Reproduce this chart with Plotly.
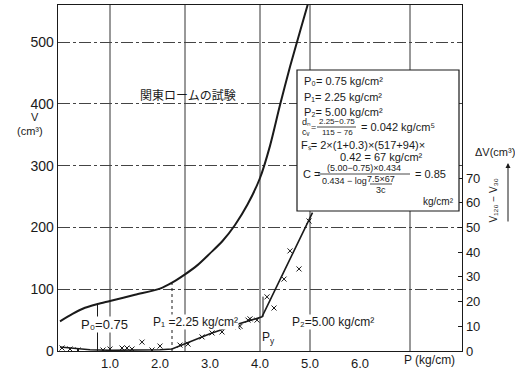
import plotly.graph_objects as go

# ---------------- data ----------------
P_CURVE = [0.0, 0.25, 0.5, 0.75, 1.0, 1.5, 2.0, 2.25, 2.5, 2.75, 3.0, 3.25, 3.5, 3.75, 4.0, 4.2, 4.4, 4.6, 4.8, 4.97]
V_CURVE = [48, 60, 70, 76, 81, 91, 101, 111, 124, 139, 158, 178, 204, 237, 280, 332, 398, 460, 517, 565]

DV_LINE_P = [0.0, 0.3, 0.6, 1.0, 1.5, 2.0, 2.24, 2.5, 3.0, 3.5, 4.04, 4.5, 5.0, 5.05]
DV_LINE = [1.6, 1.0, 0.5, 0.3, 0.3, 0.5, 0.8, 3.0, 7.0, 10.5, 13.8, 33.0, 54.0, 56.0]

MK_P = [0.04, 0.2, 0.36, 0.86, 1.0, 1.24, 1.34, 1.44, 1.64, 1.84, 2.0, 2.4, 2.56, 2.84, 3.04,
        3.24, 3.56, 3.6, 3.76, 3.8, 3.94, 4.14, 4.28, 4.48, 4.6, 4.78, 4.98]
MK_DV = [1.2, 0.8, 0.4, 0.4, 0.8, 1.2, 1.2, 0.8, 3.6, 0.4, 2.0, 2.4, 2.8, 5.7, 7.3,
         7.7, 9.7, 10.0, 12.5, 13.0, 12.5, 21.9, 17.4, 29.1, 40.5, 33.2, 52.6]

P0, V_P0 = 0.75, 76
P1, V_P1 = 2.24, 110
PY, DV_PY_LO, DV_PY_HI = 4.06, 13.8, 22.0

X_TICKS = [1.0, 2.0, 3.0, 4.0, 5.0, 6.0]
X_TICKTEXT = ["1.0", "2.0", "3.0", "4.0", "5.0", "6.0"]
Y_TICKS = [0, 100, 200, 300, 400, 500]
Y2_TICKS = [0, 10, 20, 30, 40, 50, 60, 70]
GRID_P = [1.0, 2.5, 4.0, 5.0, 7.0]

# ---------------- layout helpers ----------------
W, H = 515, 370
L, R, T, B = 58, 53, 5, 19
PW, PH = W - L - R, H - T - B
FONT = "Liberation Sans"
INK = "#1a1a1a"


def px(x):
    return (x - L) / PW


def py(y):
    return (H - B - y) / PH


fig = go.Figure()

fig.add_trace(go.Scatter(x=P_CURVE, y=V_CURVE, mode="lines",
                         line=dict(color=INK, width=2, shape="spline", smoothing=0.8),
                         hoverinfo="skip", showlegend=False))
fig.add_trace(go.Scatter(x=[P0, P0], y=[0, V_P0], mode="lines",
                         line=dict(color=INK, width=1), showlegend=False))
fig.add_trace(go.Scatter(x=[P1, P1], y=[0, V_P1], mode="lines",
                         line=dict(color=INK, width=1, dash="dot"), showlegend=False))
fig.add_trace(go.Scatter(x=DV_LINE_P, y=DV_LINE, mode="lines", yaxis="y2",
                         line=dict(color=INK, width=1.6), showlegend=False))
fig.add_trace(go.Scatter(x=[PY, PY], y=[DV_PY_LO, DV_PY_HI], mode="lines", yaxis="y2",
                         line=dict(color=INK, width=1), showlegend=False))
fig.add_trace(go.Scatter(x=MK_P, y=MK_DV, mode="markers", yaxis="y2",
                         marker=dict(symbol="x-thin", size=5, line=dict(color=INK, width=1)),
                         showlegend=False))

shapes = []
for g in GRID_P:
    shapes.append(dict(type="line", xref="x", yref="paper", x0=g, x1=g, y0=0, y1=1,
                       line=dict(color="#333", width=1), layer="below"))
# info box
shapes.append(dict(type="rect", xref="paper", yref="paper",
                   x0=px(297), x1=px(459), y0=py(211), y1=py(70),
                   fillcolor="white", line=dict(color=INK, width=1.2), layer="above"))


def hbar(x0, x1, y):
    shapes.append(dict(type="line", xref="paper", yref="paper", x0=px(x0), x1=px(x1),
                       y0=py(y), y1=py(y), line=dict(color=INK, width=0.8), layer="above"))


hbar(317, 356, 127)
hbar(318, 410, 174)
hbar(370, 392, 184)

ann = []


def text(x, y, s, size=12, xanchor="center", family=FONT, **kw):
    ann.append(dict(xref="paper", yref="paper", x=px(x), y=py(y), text=s, showarrow=False,
                    xanchor=xanchor, yanchor="middle",
                    font=dict(family=family, size=size, color=INK), **kw))


text(188, 94, "関東ロームの試験", size=12, family="Noto Sans CJK JP")
text(35, 117, "V", size=11)
text(30, 131, "(cm³)", size=11)
text(104, 324, "P₀=0.75", size=13, bgcolor="white", borderpad=0)
text(195, 322, "P₁ =2.25 kg/cm²", size=12, bgcolor="white", borderpad=0)
text(333, 322, "P₂=5.00 kg/cm²", size=12, bgcolor="white", borderpad=0)
text(268, 338, "P<sub>y</sub>", size=12)
text(429, 360, "P (kg/cm)", size=12)
text(473, 152, "ΔV(cm³)", size=11, xanchor="left")
ann.append(dict(xref="paper", yref="paper", x=px(500), y=py(201), text="V₁₂₀ − V₃₀",
                showarrow=False, textangle=-90, font=dict(family=FONT, size=10, color=INK)))
ann.append(dict(xref="paper", yref="paper", x=px(508), y=py(163), text="", showarrow=True,
                ax=0, ay=60, arrowhead=2, arrowsize=1, arrowwidth=1, arrowcolor=INK))

# box contents
text(302, 81, "P₀= 0.75 kg/cm²", size=11, xanchor="left")
text(302, 97, "P₁= 2.25 kg/cm²", size=11, xanchor="left")
text(302, 112, "P₂= 5.00 kg/cm²", size=11, xanchor="left")
text(300, 122, "dₙ", size=9, xanchor="left")
text(300, 132, "cᵥ", size=9, xanchor="left")
text(313.5, 127, "=", size=9)
text(337, 122, "2.25−0.75", size=8)
text(337, 132, "115 − 76", size=8)
text(359, 127, "= 0.042 kg/cm⁵", size=11, xanchor="left")
text(299, 145, "Fₛ= 2×(1+0.3)×(517+94)×", size=11, xanchor="left")
text(338, 157, "0.42 = 67 kg/cm²", size=11, xanchor="left")
text(301, 174, "C =", size=11, xanchor="left")
text(364, 168, "(5.00−0.75)×0.434", size=9)
text(320, 181, "0.434 − log", size=9, xanchor="left")
text(381, 179, "7.5×67", size=9)
text(381, 190, "3c", size=9)
text(413, 174, "= 0.85", size=11, xanchor="left")
text(456, 201, "kg/cm²", size=10, xanchor="right")

fig.update_layout(
    width=W, height=H,
    margin=dict(l=L, r=R, t=T, b=B, pad=0, autoexpand=False),
    paper_bgcolor="white", plot_bgcolor="white",
    font=dict(family=FONT, size=13, color=INK),
    showlegend=False,
    hovermode=False,
    shapes=shapes,
    annotations=ann,
    xaxis=dict(range=[-0.04, 8.04], tickvals=X_TICKS, ticktext=X_TICKTEXT, showgrid=False,
               zeroline=False, showline=True, linecolor=INK, linewidth=1.3, mirror=True,
               ticks="", tickfont=dict(size=13), automargin=False),
    yaxis=dict(range=[0, 560], tickvals=Y_TICKS, showgrid=True, gridcolor="#444", gridwidth=1,
               griddash="12px,3px,3px,3px", zeroline=False, showline=True, linecolor=INK,
               linewidth=1.3, ticks="", tickfont=dict(size=14), automargin=False),
    yaxis2=dict(range=[0, 140], tickvals=Y2_TICKS, overlaying="y", side="right", showgrid=False,
                zeroline=False, showline=True, linecolor=INK, linewidth=1.3, ticks="inside",
                ticklen=4, tickcolor=INK, tickfont=dict(size=13), automargin=False),
)

fig.write_html("out.html", config={"displayModeBar": False, "staticPlot": True},
               post_script="document.body.style.margin='0';document.body.style.padding='0';")
